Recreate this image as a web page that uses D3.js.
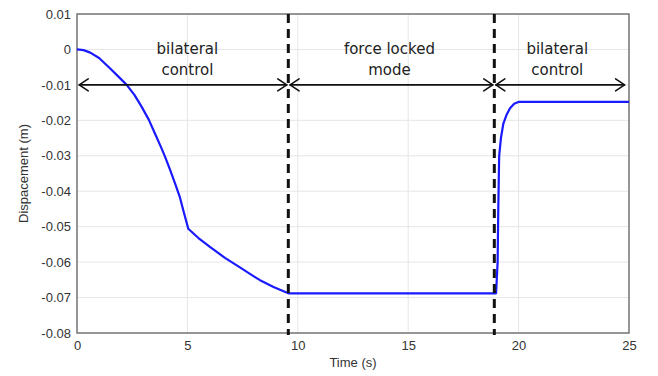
<!DOCTYPE html>
<html><head><meta charset="utf-8">
<script src="https://cdn.jsdelivr.net/npm/d3@7"></script>
<style>body{margin:0;background:#fff}svg{display:block}</style>
</head><body>
<script>
const time = [0, 0.3, 0.6, 1.0, 1.42, 1.9, 2.25, 2.6, 2.93, 3.25, 3.53, 3.8, 3.99, 4.2, 4.44, 4.65, 4.81, 5.04, 5.5, 6.02, 6.7, 7.38, 7.85, 8.29, 8.9, 9.57, 12, 15, 18.98, 19.05, 19.08, 19.12, 19.2, 19.31, 19.45, 19.61, 19.8, 19.99, 21, 23, 25];
const disp = [0, -0.0002, -0.0009, -0.0024, -0.0049, -0.0078, -0.0100, -0.0128, -0.0162, -0.0198, -0.0237, -0.0275, -0.0303, -0.0337, -0.0378, -0.0415, -0.0453, -0.0506, -0.0532, -0.0557, -0.0588, -0.0615, -0.0634, -0.0651, -0.0670, -0.0688, -0.0688, -0.0688, -0.0688, -0.0600, -0.0450, -0.0300, -0.0250, -0.0209, -0.0185, -0.0166, -0.0153, -0.0148, -0.0148, -0.0148, -0.0148];
const xTicks = [0, 5, 10, 15, 20, 25];
const yTicks = [0.01, 0, -0.01, -0.02, -0.03, -0.04, -0.05, -0.06, -0.07, -0.08];
const phaseBounds = [9.57, 18.9];
const phaseArrows = [[0.1, 9.5], [9.65, 18.83], [18.97, 24.8]];
const phaseLabels = [["bilateral", "control"], ["force locked", "mode"], ["bilateral", "control"]];
const phaseLabelX = [5.0, 14.15, 21.75];

const W = 658, H = 376;
const m = {l: 77, r: 29, t: 14, b: 43};
const svg = d3.select("body").append("svg").attr("width", W).attr("height", H);
const x = d3.scaleLinear().domain([0, 25]).range([m.l, W - m.r]);
const y = d3.scaleLinear().domain([-0.08, 0.01]).range([H - m.b, m.t]);

// grid
svg.append("g").selectAll("line.gx").data(xTicks).join("line")
  .attr("x1", d => x(d)).attr("x2", d => x(d)).attr("y1", y(0.01)).attr("y2", y(-0.08))
  .attr("stroke", "#e6e6e6").attr("stroke-width", 1);
svg.append("g").selectAll("line.gy").data(yTicks).join("line")
  .attr("y1", d => y(d)).attr("y2", d => y(d)).attr("x1", x(0)).attr("x2", x(25))
  .attr("stroke", "#e6e6e6").attr("stroke-width", 1);

// axes
const fmt = d => d === 0 ? "0" : d3.format(".2f")(d).replace("−", "-");
const xa = svg.append("g").attr("transform", `translate(0,${y(-0.08)})`)
  .call(d3.axisBottom(x).tickValues(xTicks).tickSize(0).tickPadding(8).tickFormat(d3.format("d")));
const ya = svg.append("g").attr("transform", `translate(${x(0)},0)`)
  .call(d3.axisLeft(y).tickValues(yTicks).tickSize(0).tickPadding(6).tickFormat(fmt));
[xa, ya].forEach(g => {
  g.select(".domain").remove();
  g.selectAll("text").attr("font-family", "Liberation Sans, Arial, sans-serif").attr("font-size", 13).attr("fill", "#333");
});
svg.append("rect").attr("x", x(0)).attr("y", y(0.01)).attr("width", x(25) - x(0)).attr("height", y(-0.08) - y(0.01))
  .attr("fill", "none").attr("stroke", "#777").attr("stroke-width", 1.5);

// axis titles
svg.append("text").attr("x", x(12.5)).attr("y", 367).attr("text-anchor", "middle")
  .attr("font-family", "Liberation Sans, Arial, sans-serif").attr("font-size", 13).attr("fill", "#333").text("Time (s)");
svg.append("text").attr("transform", `translate(28,${(y(0.01) + y(-0.08)) / 2}) rotate(-90)`).attr("text-anchor", "middle")
  .attr("font-family", "Liberation Sans, Arial, sans-serif").attr("font-size", 13).attr("fill", "#333").text("Dispacement (m)");

// curve
const pts = time.map((t, i) => [t, disp[i]]);
svg.append("path").datum(pts).attr("fill", "none").attr("stroke", "#1a1aff").attr("stroke-width", 2.2)
  .attr("stroke-linejoin", "round")
  .attr("d", d3.line().x(d => x(d[0])).y(d => y(d[1])));

// dashed boundaries
svg.append("g").selectAll("line").data(phaseBounds).join("line")
  .attr("x1", d => x(d)).attr("x2", d => x(d)).attr("y1", y(0.01)).attr("y2", y(-0.08) + 2)
  .attr("stroke", "#111").attr("stroke-width", 3).attr("stroke-dasharray", "9,6");

// arrows
const ay = y(-0.01);
const ag = svg.append("g").attr("stroke", "#111").attr("fill", "none").attr("stroke-width", 1.6).attr("stroke-linecap", "round").attr("stroke-linejoin", "round");
phaseArrows.forEach(([a, b]) => {
  const x1 = x(a), x2 = x(b);
  ag.append("line").attr("x1", x1).attr("x2", x2).attr("y1", ay).attr("y2", ay);
  ag.append("path").attr("d", `M${x1 + 9},${ay - 6}L${x1},${ay}L${x1 + 9},${ay + 6}`);
  ag.append("path").attr("d", `M${x2 - 9},${ay - 6}L${x2},${ay}L${x2 - 9},${ay + 6}`);
});

// labels
phaseLabels.forEach((lines, i) => {
  lines.forEach((s, j) => {
    svg.append("text").attr("x", x(phaseLabelX[i])).attr("y", 54 + j * 21).attr("text-anchor", "middle")
      .attr("font-family", "'Comic Sans MS', 'DejaVu Sans', sans-serif").attr("font-size", 15).attr("fill", "#222").text(s);
  });
});
</script>
</body></html>
